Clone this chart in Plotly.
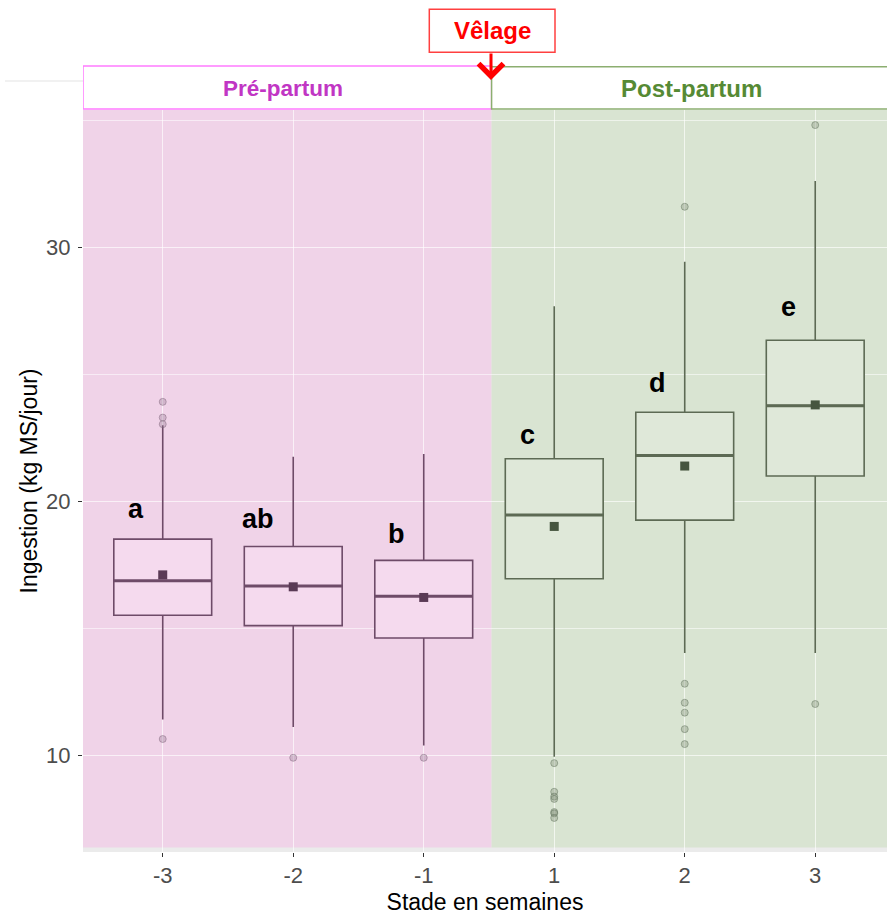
import plotly.graph_objects as go

# ---------------- data ----------------
stages = ["-3", "-2", "-1", "1", "2", "3"]
phase = ["pre", "pre", "pre", "post", "post", "post"]
q1 = [15.51, 15.10, 14.61, 16.95, 19.26, 21.00]
median = [16.87, 16.66, 16.26, 19.46, 21.81, 23.77]
q3 = [18.51, 18.22, 17.67, 21.68, 23.51, 26.35]
lower_whisker = [11.40, 11.10, 10.37, 9.93, 14.02, 14.02]
upper_whisker = [23.00, 21.76, 21.86, 27.69, 29.44, 32.63]
means = [17.10, 16.63, 16.21, 19.01, 21.39, 23.80]
outliers = {
    "-3": [23.92, 23.30, 23.04, 10.63],
    "-2": [9.89],
    "-1": [9.89],
    "1": [9.68, 8.55, 8.36, 8.27, 7.75, 7.70, 7.52],
    "2": [31.61, 12.81, 12.06, 11.67, 11.02, 10.43],
    "3": [34.83, 12.01],
}
letters = ["a", "ab", "b", "c", "d", "e"]
letter_y = [19.29, 18.90, 18.31, 22.22, 24.26, 27.28]

# ---------------- styles ----------------
FONT = "Liberation Sans, Arial, sans-serif"
style = {
    "pre": dict(line="#6E4B68", fill="#F5DAEE", mean="#5A3A55",
                pt="rgba(150,120,145,0.35)", ptl="rgba(120,95,115,0.45)"),
    "post": dict(line="#5D6A54", fill="#DFE8D9", mean="#46553F",
                 pt="rgba(125,140,118,0.35)", ptl="rgba(100,115,95,0.5)"),
}
BOXW = 0.75
pos = list(range(len(stages)))

fig = go.Figure()

for i, s in enumerate(stages):
    st = style[phase[i]]
    fig.add_trace(go.Box(
        x=[pos[i]], q1=[q1[i]], median=[median[i]], q3=[q3[i]],
        lowerfence=[lower_whisker[i]], upperfence=[upper_whisker[i]],
        width=BOXW, whiskerwidth=0, boxpoints=False,
        fillcolor=st["fill"], line=dict(color=st["line"], width=1.6),
        showlegend=False, hoverinfo="skip"))
    # thicker median line
    fig.add_trace(go.Scatter(
        x=[pos[i] - BOXW / 2, pos[i] + BOXW / 2], y=[median[i], median[i]],
        mode="lines", line=dict(color=st["line"], width=3),
        showlegend=False, hoverinfo="skip"))
    # outliers
    ys = outliers[s]
    fig.add_trace(go.Scatter(
        x=[pos[i]] * len(ys), y=ys, mode="markers",
        marker=dict(symbol="circle", size=7, color=st["pt"],
                    line=dict(color=st["ptl"], width=1)),
        showlegend=False, hoverinfo="skip"))
    # mean
    fig.add_trace(go.Scatter(
        x=[pos[i]], y=[means[i]], mode="markers",
        marker=dict(symbol="square", size=9, color=st["mean"]),
        showlegend=False, hoverinfo="skip"))

# significance letters (right edge just left of the whisker)
for i, t in enumerate(letters):
    fig.add_annotation(x=pos[i] - 0.13, y=letter_y[i], text="<b>%s</b>" % t,
                       showarrow=False, xanchor="right", yanchor="bottom",
                       yshift=-7, font=dict(family=FONT, size=27, color="black"))

YMIN, YMAX = 6.177, 35.424
XMIN, XMAX = -0.611, 5.55
SPLIT = 2.52


def px_x(px):
    return (px - 83) / 804.0


def px_y(py):
    return (852 - py) / 742.0


shapes = [
    # coloured phase backgrounds
    dict(type="rect", layer="below", xref="x", yref="y", x0=XMIN, x1=SPLIT,
         y0=6.354, y1=YMAX, fillcolor="#F0D3E8", line=dict(width=0)),
    dict(type="rect", layer="below", xref="x", yref="y", x0=SPLIT, x1=XMAX,
         y0=6.354, y1=YMAX, fillcolor="#D9E4D2", line=dict(width=0)),
    # header boxes
    dict(type="rect", layer="above", xref="x", yref="paper", x0=XMIN, x1=SPLIT,
         y0=px_y(109), y1=px_y(66), fillcolor="white",
         line=dict(color="#FF7BFF", width=1.5)),
    dict(type="rect", layer="above", xref="x", yref="paper", x0=SPLIT, x1=XMAX + 0.1,
         y0=px_y(109), y1=px_y(66.7), fillcolor="white",
         line=dict(color="#8CAE70", width=1.5)),
    # Vêlage box
    dict(type="rect", layer="above", xref="paper", yref="paper",
         x0=px_x(429.3), x1=px_x(555), y0=px_y(52.3), y1=px_y(9.3),
         fillcolor="white", line=dict(color="#FF4040", width=1.5)),
    # faint line at top left
    dict(type="line", layer="above", xref="paper", yref="paper", x0=px_x(5), x1=0,
         y0=px_y(81), y1=px_y(81), line=dict(color="#E3E3E3", width=1)),
]

fig.add_annotation(xref="paper", yref="paper", x=px_x(492), y=px_y(31),
                   xanchor="center", yanchor="middle",
                   text="<b>Vêlage</b>", showarrow=False,
                   font=dict(family=FONT, size=24, color="#FF0000"))
fig.add_annotation(xref="paper", yref="paper", x=px_x(491), y=px_y(80), text="",
                   showarrow=True, arrowhead=4, arrowsize=1.6, arrowwidth=3,
                   arrowcolor="#FF0000", ax=0, ay=-28, standoff=0)
fig.add_annotation(xref="paper", yref="paper", x=px_x(282.5), y=px_y(88),
                   xanchor="center", yanchor="middle",
                   text="<b>Pré-partum</b>", showarrow=False,
                   font=dict(family=FONT, size=22.5, color="#C136C4"))
fig.add_annotation(xref="paper", yref="paper", x=px_x(691.3), y=px_y(88),
                   xanchor="center", yanchor="middle",
                   text="<b>Post-partum</b>", showarrow=False,
                   font=dict(family=FONT, size=24, color="#568A34"))

fig.update_layout(
    width=887, height=915, autosize=False,
    margin=dict(l=83, r=0, t=110, b=63),
    paper_bgcolor="white", plot_bgcolor="#EBEBEB",
    boxmode="overlay", showlegend=False,
    font=dict(family=FONT),
    shapes=shapes,
)
fig.update_xaxes(
    range=[XMIN, XMAX], tickmode="array", tickvals=pos, ticktext=stages,
    showgrid=True, gridcolor="rgba(255,255,255,0.65)", gridwidth=1.2,
    zeroline=False, showline=False,
    ticks="outside", ticklen=4, tickwidth=1.2, tickcolor="#333333",
    tickfont=dict(family=FONT, size=22, color="#4D4D4D"),
    title=dict(text="Stade en semaines", font=dict(family=FONT, size=23, color="black"),
               standoff=6),
)
fig.update_yaxes(
    range=[YMIN, YMAX], tickmode="array", tickvals=[10, 20, 30],
    showgrid=True, gridcolor="rgba(255,255,255,0.65)", gridwidth=1.2,
    minor=dict(tickvals=[15, 25, 35], showgrid=True,
               gridcolor="rgba(255,255,255,0.55)", gridwidth=0.6),
    zeroline=False, showline=False,
    ticks="outside", ticklen=4, tickwidth=1.2, tickcolor="#333333",
    tickfont=dict(family=FONT, size=22, color="#4D4D4D"),
    ticklabelstandoff=3,
    title=dict(text="Ingestion (kg MS/jour)", font=dict(family=FONT, size=23, color="black"),
               standoff=2),
)

fig.write_html("out.html")
